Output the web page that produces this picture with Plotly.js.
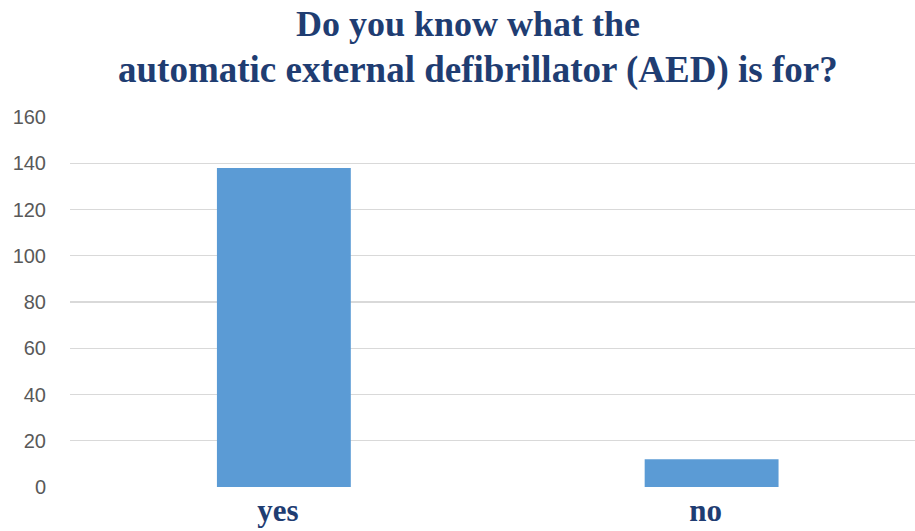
<!DOCTYPE html>
<html>
<head>
<meta charset="utf-8">
<script src="https://cdn.plot.ly/plotly-3.0.1.min.js"></script>
<style>
  html, body { margin: 0; padding: 0; background: #ffffff; }
  #chart { width: 915px; height: 531px; }
</style>
</head>
<body>
<div id="chart"></div>
<script>
// Survey answers
const categories = ["yes", "no"];
const counts = [138, 12];
const yTicks = [0, 20, 40, 60, 80, 100, 120, 140, 160];

const titleLine1 = "Do you know what the";
const titleLine2 = "automatic external defibrillator (AED) is for?";

const navy = "#1F3D72";
const serif = "'Liberation Serif', 'Times New Roman', serif";

const trace = {
  type: "bar",
  x: categories,
  y: counts,
  marker: { color: "#5B9BD5" },
  hoverinfo: "x+y"
};

const layout = {
  width: 915,
  height: 531,
  margin: { l: 69.5, r: 0, t: 117, b: 43.5 },
  paper_bgcolor: "#ffffff",
  plot_bgcolor: "#ffffff",
  bargap: 0.687,
  showlegend: false,
  xaxis: {
    type: "category",
    range: [-0.5, 1.4755],
    showgrid: false,
    zeroline: false,
    showline: false,
    ticks: "",
    ticklabelshift: -6,
    tickfont: { family: serif, size: 31, color: navy, weight: "bold" },
    ticklabelstandoff: 2
  },
  yaxis: {
    range: [0, 160],
    tickvals: yTicks,
    ticktext: yTicks.map(String),
    showgrid: true,
    gridcolor: "#D9D9D9",
    gridwidth: 1.4,
    zeroline: false,
    showline: false,
    ticks: "",
    ticklabelstandoff: 23,
    tickfont: { family: "'Liberation Sans', Arial, sans-serif", size: 20, color: "#595959" }
  },
  // two-line chart heading, each line placed on its own
  annotations: [
    {
      text: "<b>" + titleLine1 + "</b>",
      xref: "paper", yref: "paper",
      x: 0.471, y: 1,
      xanchor: "center", yanchor: "middle",
      yshift: 117 - 24,
      showarrow: false,
      font: { family: serif, size: 36, color: navy }
    },
    {
      text: "<b>" + titleLine2 + "</b>",
      xref: "paper", yref: "paper",
      x: 0.483, y: 1,
      xanchor: "center", yanchor: "middle",
      yshift: 117 - 70,
      showarrow: false,
      font: { family: serif, size: 37, color: navy }
    }
  ]
};

Plotly.newPlot("chart", [trace], layout, { displayModeBar: false, staticPlot: true });
</script>
</body>
</html>
